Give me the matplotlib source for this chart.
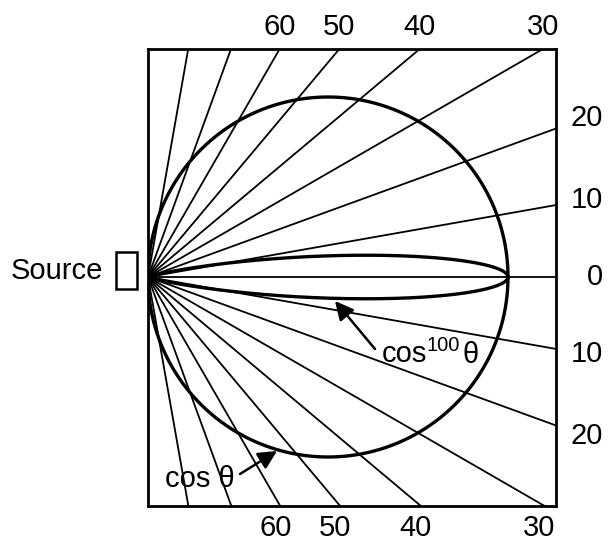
import numpy as np
import matplotlib
matplotlib.use('Agg')
import matplotlib.pyplot as plt
from matplotlib.patches import Rectangle

plt.rcParams['font.family'] = ['Liberation Sans', 'DejaVu Sans']

# ray angles (degrees) and which ones get labels
ray_angles = [-80, -70, -60, -50, -40, -30, -20, -10, 0, 10, 20, 30, 40, 50, 60, 70, 80]
side_labels = [20, 10, 0, -10, -20]
edge_labels = [60, 50, 40, 30]
diameter = 360      # length of the cos lobe along 0 deg
power = 100         # exponent of narrow lobe

fig = plt.figure(figsize=(6.09, 5.41), dpi=100)
ax = fig.add_axes([148/609, 35/541, 408/609, 457/541])
ax.set_xlim(0, 408)
ax.set_ylim(-229, 228)
ax.set_xticks([])
ax.set_yticks([])
for s in ax.spines.values():
    s.set_linewidth(2.0)

#rays from the source
for a in ray_angles:
    t = np.radians(a)
    ax.plot([0, 1000*np.cos(t)], [0, 1000*np.sin(t)], color='k', lw=1.3)

#cos and cos^100 patterns
th = np.radians(np.linspace(-90, 90, 2001))
r1 = diameter*np.cos(th)
ax.plot(r1*np.cos(th), r1*np.sin(th), color='k', lw=2.4)
r2 = diameter*np.cos(th)**power
ax.plot(r2*np.cos(th), r2*np.sin(th), color='k', lw=2.4)

#angle labels
fs = 21
for a in side_labels:
    ax.text(455, 438*np.tan(np.radians(a)), str(abs(a)), ha='right', va='center',
            fontsize=fs, clip_on=False)
for a in edge_labels:
    x = 228/np.tan(np.radians(a))
    ax.text(x, 250, str(a), ha='center', va='center', fontsize=fs, clip_on=False)
    ax.text(x - 4, -251, str(a), ha='center', va='center', fontsize=fs, clip_on=False)

#source
ax.text(-45, 6, 'Source', ha='right', va='center', fontsize=fs, clip_on=False)
ax.add_patch(Rectangle((-32, -12), 21, 37, fill=False, lw=1.8, clip_on=False))

#annotations
arrow = dict(arrowstyle='-|>', mutation_scale=28, lw=1.8, color='k', shrinkA=0, shrinkB=0)
ax.annotate('', xy=(187, -24), xytext=(227, -72), arrowprops=arrow)
ax.text(234, -85, 'cos', fontsize=fs, ha='left', va='baseline')
ax.text(279, -74, '100', fontsize=14.5, ha='left', va='baseline')
ax.text(315, -86, '\u03b8', fontsize=fs, ha='left', va='baseline')

ax.annotate('', xy=(129, -174), xytext=(92, -197), arrowprops=arrow)
ax.text(17, -210, 'cos \u03b8', fontsize=fs, ha='left', va='baseline')

fig.savefig('out.png', dpi=100)
